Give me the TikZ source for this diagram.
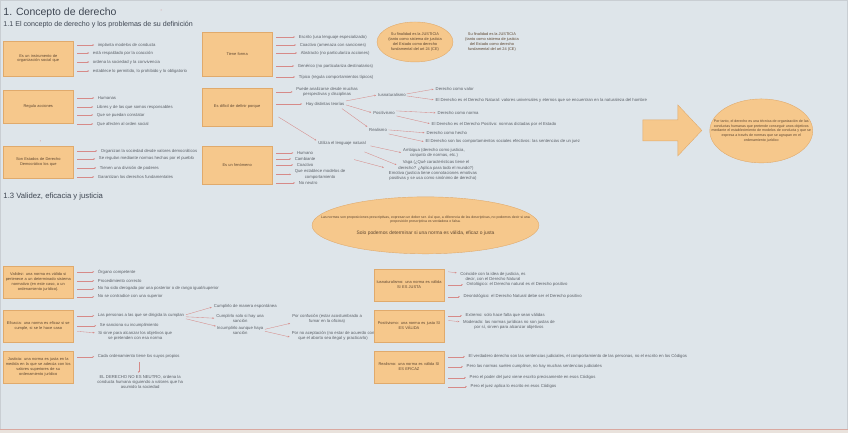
\documentclass[tikz,border=0pt]{standalone}
\usepackage{fontspec}
\setmainfont{Liberation Sans}
\usetikzlibrary{arrows.meta,shapes.geometric,calc}
\definecolor{bg}{HTML}{DEE5EA}
\definecolor{boxfill}{HTML}{F6C88C}
\definecolor{boxline}{HTML}{E0AA6C}
\definecolor{arrc}{HTML}{D68A88}
\definecolor{txt}{HTML}{5A5F66}
\definecolor{boxtxt}{HTML}{5E4630}
\definecolor{ttl}{HTML}{3E4652}
\definecolor{strip}{HTML}{E9E2DC}
\definecolor{frame}{HTML}{C9CED3}
\definecolor{botline}{HTML}{D9A8A0}
\begin{document}
\begin{tikzpicture}[x=1pt,y=-1pt,
  box/.style={draw=boxline,fill=boxfill,line width=0.4pt,minimum width=70pt,text width=69.5pt,align=center,inner sep=0.3pt,text=boxtxt,font=\fontsize{3.95}{4.9}\selectfont},
  item/.style={anchor=west,inner sep=0.5pt,text=txt,font=\fontsize{4.25}{5.1}\selectfont},
  citem/.style={inner sep=0.5pt,align=center,text=txt,font=\fontsize{4.25}{5.1}\selectfont},
  arr/.style={draw=arrc,line width=0.35pt,-{Stealth[length=1.8pt,width=1.6pt]},shorten >=1.5pt},
  barr/.style={arr,shorten <=4pt,shorten >=3pt},
  ell/.style={ellipse,draw=boxline,fill=boxfill,line width=0.4pt,inner sep=0pt,align=center,text=boxtxt}]
% background and frame
\fill[bg] (0,0) rectangle (848,433);
\fill[strip] (0,430) rectangle (848,433);
\draw[frame,line width=0.8pt] (0.4,430) -- (0.4,0.4) -- (847.6,0.4) -- (847.6,430);
\draw[botline,line width=0.6pt] (0,430) -- (848,430);
\useasboundingbox (0,0) rectangle (848,433);

% titles
\node[anchor=west,inner sep=0,text=ttl,font=\fontsize{10.5}{12}\selectfont] (title) at (3,13) {1. Concepto de derecho};
\node[anchor=west,inner sep=0,text=ttl,font=\fontsize{7.1}{8}\selectfont] (sub1) at (3,25) {1.1 El concepto de derecho y los problemas de su definición};
\node[anchor=west,inner sep=0,text=ttl,font=\fontsize{7.7}{8}\selectfont] (sub3) at (3,197) {1.3 Validez, eficacia y justicia};
\fill[arrc] (161,10) circle (0.5pt) (40,141) circle (0.5pt);

% ---- column 1
\node[box,minimum height=35pt] (b1) at (38,58.5) {Es un instrumento de\\organización social que};
\node[item] (a1) at (97,45) {implanta modelos de conducta};
\node[item] (a2) at (92,53) {está respaldado por la coacción};
\node[item] (a3) at (92,62) {ordena la sociedad y la convivencia};
\node[item] (a4) at (92,71) {establece lo permitido, lo prohibido y lo obligatorio};
\foreach \n in {a1,a2,a3,a4} \draw[barr] (b1.east |- \n) -- (\n.west);

\node[box,minimum height=33pt] (b2) at (38,106.5) {Regula acciones};
\node[item] (r1) at (97,98) {Humanas};
\node[item] (r2) at (96,107) {Libres y de las que somos responsables};
\node[item] (r3) at (96,115) {Que se puedan constatar};
\node[item] (r4) at (96,124) {Que afecten al orden social};
\foreach \n in {r1,r2,r3,r4} \draw[barr] (b2.east |- \n) -- (\n.west);

\node[box,minimum height=32pt] (b3) at (38,162) {Son Estados de Derecho\\Democrático los que};
\node[item] (s1) at (100,151) {Organizan la sociedad desde valores democráticos};
\node[item] (s2) at (98,159) {Se regulan mediante normas hechas por el pueblo};
\node[item] (s3) at (99,168) {Tienen una división de poderes};
\node[item] (s4) at (97,177) {Garantizan los derechos fundamentales};
\foreach \n in {s1,s2,s3,s4} \draw[barr] (b3.east |- \n) -- (\n.west);

% ---- column 2
\node[box,minimum height=44pt] (b4) at (237,54) {Tiene forma};
\node[item] (f1) at (298,37) {Escrito (usa lenguaje especializado)};
\node[item] (f2) at (299,45) {Coactivo (amenaza con sanciones)};
\node[item] (f3) at (300,53) {Abstracto (no particulariza acciones)};
\node[item] (f4) at (297,66) {Genérico (no particulariza destinatarios)};
\node[item] (f5) at (298,77) {Típico (regula comportamientos típicos)};
\foreach \n in {f1,f2,f3,f4,f5} \draw[barr] (b4.east |- \n) -- (\n.west);

\node[box,minimum height=38pt] (b5) at (237,107) {Es difícil de definir porque};
\node[citem] (p1) at (327,92) {Puede analizarse desde muchas\\perspectivas y disciplinas};
\node[citem] (hay) at (325,104) {Hay distintas teorías};
\node[citem] (u) at (342,144) {Utiliza el lenguaje natural};
\draw[barr] (b5.east |- p1) -- (p1.west);
\draw[barr] (b5.east |- hay) -- (hay.west);
\draw[arr] ($(b5.east)+(6,10)$) -- (u.north west);

\node[citem] (t1) at (392,95) {Iusnaturalismo};
\node[citem] (t2) at (384,113) {Positivismo};
\node[citem] (t3) at (378,130) {Realismo};
\draw[arr] ($(hay.east)+(1,-3)$) -- (t1.west);
\draw[arr] ($(hay.east)+(1,1)$) -- (t2.west);
\draw[arr] ($(hay.south east)+(-3,2)$) -- (t3.north west);

\node[item] (c1) at (435,89) {Derecho como valor};
\node[item] (c2) at (435,100) {El Derecho es el Derecho Natural: valores universales y eternos que se encuentran en la naturaleza del hombre};
\node[item] (c3) at (437,113) {Derecho como norma};
\node[item] (c4) at (431,124) {El Derecho es el Derecho Positivo: normas dictadas por el Estado};
\node[item] (c5) at (426,133) {Derecho como hecho};
\node[item] (c6) at (425,142) {El Derecho son los comportamientos sociales efectivos: las sentencias de un juez};
\draw[arr] ($(t1.east)+(0,-1)$) -- (c1.west);
\draw[arr] ($(t1.east)+(0,1)$) -- (c2.west);
\draw[arr] ($(t2.east)+(1,-2)$) -- (c3.west);
\draw[arr] ($(t2.east)+(1,3)$) -- (c4.west);
\draw[arr] ($(t3.east)+(1,0)$) -- (c5.west);
\draw[arr] ($(t3.east)+(1,4)$) -- (c6.west);

\node[citem] (amb) at (434,153) {Ambigua (derecho como justicia,\\conjunto de normas, etc.)};
\node[citem] (vag) at (436,165.5) {Vaga (¿Qué características tiene el\\derecho? ¿Aplica para todo el mundo?)};
\node[citem] (emo) at (433,176) {Emotiva (justicia tiene connotaciones emotivas\\positivas y se usa como sinónimo de derecho)};
\draw[arr] ($(u.east)+(4,2)$) -- (amb.west);
\draw[arr] ($(u.east)+(-2,8)$) -- (vag.west);
\draw[arr] ($(u.south)+(12,13)$) -- ($(emo.west)+(-3,-8)$);

\node[box,minimum height=38pt] (b6) at (237,165) {Es un fenómeno};
\node[citem] (h1) at (305,153) {Humano};
\node[citem] (h2) at (305,159) {Cambiante};
\node[citem] (h3) at (305,165) {Coactivo};
\node[citem] (h4) at (320,174.5) {Que establece modelos de\\comportamiento};
\node[citem] (h5) at (308,183) {No neutro};
\foreach \n in {h1,h2,h3,h4,h5} \draw[barr] (b6.east |- \n) -- (\n.west);

% ellipses top
\node[ell,minimum width=76pt,minimum height=40pt] (e1) at (415,42) {};
\node[citem,text=boxtxt,font=\fontsize{3.9}{4.9}\selectfont] (e1a) at (415,42) {Su finalidad es la JUSTICIA\\(tanto como sistema de justicia\\del Estado como derecho\\fundamental del art 24 (CE)};
\node[citem,text=boxtxt,font=\fontsize{3.9}{4.9}\selectfont] (e1t) at (492,42) {Su finalidad es la JUSTICIA\\(tanto como sistema de justicia\\del Estado como derecho\\fundamental del art 24 (CE)};

% right arrow + conclusion
\draw[boxline,fill=boxfill,line width=0.4pt] (643,120) -- (678,120) -- (678,105) -- (702,130.5) -- (678,156) -- (678,141) -- (643,141) -- cycle;
\node[ell,minimum width=103pt,minimum height=64pt] (e2) at (761.5,131) {};
\node[inner sep=0,align=center,text=boxtxt,font=\fontsize{3.6}{4.8}\selectfont] (e2a) at (761.5,131) {Por tanto, el derecho es una técnica de organización de las\\conductas humanas que pretende conseguir unos objetivos\\mediante el establecimiento de modelos de conducta y que se\\expresa a través de normas que se agrupan en el\\ordenamiento jurídico};

% middle ellipse
\node[ell,minimum width=227pt,minimum height=57pt] (e3) at (425.5,225.5) {};
\node[inner sep=0,align=center,text=boxtxt,font=\fontsize{3.5}{4.3}\selectfont] (e3a) at (425.5,220) {Las normas son proposiciones prescriptivas, expresan un deber ser. Así que, a diferencia de las descriptivas, no podemos decir si una\\proposición prescriptiva es verdadera o falsa.};
\node[inner sep=0,text=boxtxt,font=\fontsize{4.9}{5.5}\selectfont] (e3b) at (425.5,233) {Solo podemos determinar si una norma es válida, eficaz o justa};

% ---- section 1.3
\node[box,minimum height=32pt] (b7) at (38,282) {Validez: una norma es válida si\\pertenece a un determinado sistema\\normativo (en este caso, a un\\ordenamiento jurídico).};
\node[item] (v1) at (97,272) {Órgano competente};
\node[item] (v2) at (97,281) {Procedimiento correcto};
\node[item] (v3) at (97,289) {No ha sido derogada por una posterior o de rango igual/superior};
\node[item] (v4) at (97,297) {No se contradice con una superior};
\foreach \n in {v1,v2,v3,v4} \draw[barr] (b7.east |- \n) -- (\n.west);

\node[box,minimum height=32pt] (b8) at (38,326) {Eficacia: una norma es eficaz si se\\cumple, si se le hace caso};
\node[item] (g1) at (97,316) {Las personas a las que se dirigida la cumplan};
\node[item] (g2) at (99,326) {Se sanciona su incumplimiento};
\node[citem] (g3) at (135,336.5) {Si sirve para alcanzar los objetivos que\\se pretenden con esa norma};
\draw[barr] (b8.east |- g1) -- (g1.west);
\draw[barr] (b8.east |- g2) -- (g2.west);
\draw[barr] (b8.east |- g3.north) -- ($(g3.north west)+(0,2)$);

\node[item] (k1) at (213,307) {Cumplirlo de manera espontánea};
\node[citem] (k2) at (240,318.5) {Cumplirlo solo si hay una\\sanción};
\node[citem] (k3) at (240,330.5) {Incumplirlo aunque haya\\sanción};
\draw[arr] ($(g1.east)+(1,-1)$) -- (k1.west);
\draw[arr] ($(g1.east)+(1,1)$) -- ($(k2.west)+(0,0)$);
\draw[arr] ($(g1.east)+(1,3)$) -- ($(k3.north west)+(1,1)$);

\node[citem] (m1) at (327,319) {Por confusión (estar acostumbrado a\\fumar en la oficina)};
\node[citem] (m2) at (333,336.5) {Por no aceptación (no estar de acuerdo con\\que el aborto sea ilegal y practicarlo)};
\draw[arr] ($(k3.east)+(1,-1)$) -- ($(m1.south west)+(0,-1)$);
\draw[arr] ($(k3.east)+(1,1)$) -- ($(m2.west)+(0,1)$);

\node[box,minimum height=32pt] (b9) at (38,367) {Justicia: una norma es justa en la\\medida en la que se adecúa con los\\valores superiores de su\\ordenamiento jurídico};
\node[item] (j1) at (97,357) {Cada ordenamiento tiene los suyos propios};
\node[citem] (jt) at (140,382) {EL DERECHO NO ES NEUTRO, ordena la\\conducta humana siguiendo a valores que ha\\asumido la sociedad};
\draw[barr] (b9.east |- j1) -- (j1.west);
\draw[arr,shorten <=3pt] (j1.south) -- (j1.south |- jt.north);

% ---- right boxes
\node[box,minimum height=32pt] (b10) at (409,285) {Iusnaturalismo: una norma es válida\\SI ES JUSTA};
\node[citem] (n1) at (493,276.5) {Coincide con la idea de justicia, es\\decir, con el Derecho Natural};
\node[item] (n2) at (466,285) {Ontológico: el Derecho natural es el Derecho positivo};
\node[item] (n3) at (463,297) {Deontológico: el Derecho Natural debe ser el Derecho positivo};
\draw[barr] (b10.east |- n1.north) -- ($(n1.north west)+(0,2)$);
\foreach \n in {n2,n3} \draw[barr] (b10.east |- \n) -- (\n.west);

\node[box,minimum height=32pt] (b11) at (409,326) {Positivismo: una norma es justa SI\\ES VÁLIDA};
\node[item] (o1) at (465,316) {Extremo: solo hace falta que sean válidas};
\node[citem] (o2) at (509,325.5) {Moderado: las normas jurídicas no son justas de\\por sí, sirven para alcanzar objetivos};
\draw[barr] (b11.east |- o1) -- (o1.west);
\draw[barr] (b11.east |- o2.north) -- ($(o2.north west)+(0,2)$);

\node[box,minimum height=32pt] (b12) at (409,367) {Realismo: una norma es válida SI\\ES EFICAZ};
\node[item] (q1) at (468,357) {El verdadero derecho son las sentencias judiciales, el comportamiento de las personas, no el escrito en los Códigos};
\node[item] (q2) at (466,367) {Pero las normas suelen cumplirse, no hay muchas sentencias judiciales};
\node[item] (q3) at (469,378) {Pero el poder del juez viene escrito precisamente en esos Códigos};
\node[item] (q4) at (470,387) {Pero el juez aplica lo escrito en esos Códigos};
\foreach \n in {q1,q2,q3,q4} \draw[barr] (b12.east |- \n) -- (\n.west);
\end{tikzpicture}
\end{document}
